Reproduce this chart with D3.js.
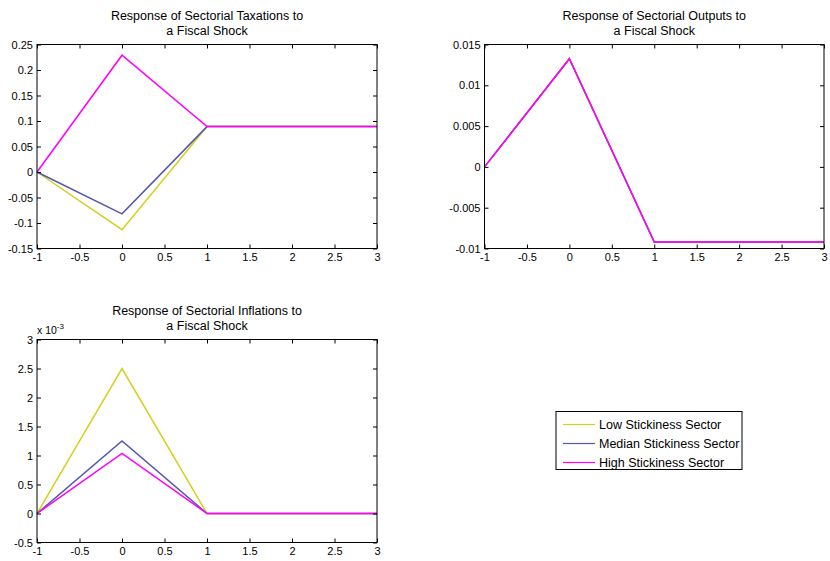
<!DOCTYPE html>
<html><head><meta charset="utf-8">
<script src="https://cdn.jsdelivr.net/npm/d3@7/dist/d3.min.js"></script>
<style>
body{margin:0;background:#fff;}
svg{display:block;font-family:"Liberation Sans",Arial,sans-serif;}
</style></head>
<body><svg id="c" width="830" height="561"></svg>
<script>
const periods = [-1, 0, 1, 2, 3];
const seriesNames = ["Low Stickiness Sector", "Median Stickiness Sector", "High Stickiness Sector"];
const seriesColors = ["#d6cf1e", "#5656ad", "#ff00ff"];

const taxLow = [0, -0.113, 0.089, 0.089, 0.089];
const taxMed = [0, -0.082, 0.089, 0.089, 0.089];
const taxHigh = [0, 0.229, 0.089, 0.089, 0.089];

const outLow = [0, 0.01325, -0.0092, -0.0092, -0.0092];
const outMed = [0, 0.01325, -0.0092, -0.0092, -0.0092];
const outHigh = [0, 0.01325, -0.0092, -0.0092, -0.0092];

const infLow = [0, 2.5, 0, 0, 0];      // x 10^-3
const infMed = [0, 1.25, 0, 0, 0];
const infHigh = [0, 1.035, 0, 0, 0];

const xTicks = [-1, -0.5, 0, 0.5, 1, 1.5, 2, 2.5, 3];
const taxTicks = [-0.15, -0.1, -0.05, 0, 0.05, 0.1, 0.15, 0.2, 0.25];
const outTicks = [-0.01, -0.005, 0, 0.005, 0.01, 0.015];
const infTicks = [-0.5, 0, 0.5, 1, 1.5, 2, 2.5, 3];

const svg = d3.select("#c");

function panel(o) {
  const g = svg.append("g");
  const x = d3.scaleLinear().domain([-1, 3]).range([o.x0, o.x1]);
  const y = d3.scaleLinear().domain(o.dom).range([o.y1, o.y0]);
  const line = d3.line().x((d, i) => x(periods[i])).y(d => y(d));
  o.series.forEach((s, k) => {
    g.append("path").attr("d", line(s)).attr("fill", "none")
      .attr("stroke", seriesColors[k]).attr("stroke-width", 1.5)
      .attr("stroke-linejoin", "miter");
  });
  g.append("rect").attr("x", o.x0).attr("y", o.y0).attr("width", o.x1 - o.x0).attr("height", o.y1 - o.y0)
    .attr("fill", "none").attr("stroke", "#000").attr("stroke-width", 1);
  const fmt = v => String(+v.toFixed(4));
  const bx = g.append("g").attr("transform", `translate(0,${o.y1})`)
    .call(d3.axisBottom(x).tickValues(xTicks).tickSizeInner(-4).tickSizeOuter(0).tickPadding(5).tickFormat(fmt));
  g.append("g").attr("transform", `translate(0,${o.y0})`)
    .call(d3.axisTop(x).tickValues(xTicks).tickSizeInner(-4).tickSizeOuter(0).tickFormat(""));
  g.append("g").attr("transform", `translate(${o.x0},0)`)
    .call(d3.axisLeft(y).tickValues(o.ticks).tickSizeInner(-4).tickSizeOuter(0).tickPadding(4).tickFormat(fmt));
  g.append("g").attr("transform", `translate(${o.x1},0)`)
    .call(d3.axisRight(y).tickValues(o.ticks).tickSizeInner(-4).tickSizeOuter(0).tickFormat(""));
  g.selectAll(".domain").remove();
  g.selectAll(".tick line").attr("stroke", "#000");
  g.selectAll(".tick text").attr("font-size", 11).attr("fill", "#000").attr("font-family", "Liberation Sans, Arial, sans-serif");
  bx.selectAll(".tick text").attr("dy", "0.71em");
  const cx = (o.x0 + o.x1) / 2;
  o.title.forEach((t, i) => {
    g.append("text").attr("x", cx).attr("y", o.y0 - 25 + i * 15.5).attr("text-anchor", "middle")
      .attr("font-size", 12.5).attr("fill", "#000").text(t);
  });
  return g;
}

panel({x0: 37, x1: 377, y0: 44.5, y1: 248.5, dom: [-0.15, 0.25], ticks: taxTicks,
  series: [taxLow, taxMed, taxHigh], title: ["Response of Sectorial Taxations to", "a Fiscal Shock"]});
panel({x0: 484.5, x1: 824, y0: 44.5, y1: 248.5, dom: [-0.01, 0.015], ticks: outTicks,
  series: [outLow, outMed, outHigh], title: ["Response of Sectorial Outputs to", "a Fiscal Shock"]});
const g3 = panel({x0: 37, x1: 377, y0: 339.5, y1: 542.5, dom: [-0.5, 3], ticks: infTicks,
  series: [infLow, infMed, infHigh], title: ["Response of Sectorial Inflations to", "a Fiscal Shock"]});
const mult = g3.append("text").attr("x", 37).attr("y", 334).attr("font-size", 10.5).attr("fill", "#000");
mult.append("tspan").text("x 10");
mult.append("tspan").attr("dy", -5).attr("font-size", 8).text("-3");

const lg = svg.append("g");
lg.append("rect").attr("x", 556).attr("y", 411.5).attr("width", 186).attr("height", 58)
  .attr("fill", "#fff").attr("stroke", "#000").attr("stroke-width", 1);
seriesNames.forEach((n, k) => {
  const yy = 424.5 + k * 19;
  lg.append("line").attr("x1", 563).attr("x2", 595).attr("y1", yy).attr("y2", yy)
    .attr("stroke", seriesColors[k]).attr("stroke-width", 1.2);
  lg.append("text").attr("x", 599).attr("y", yy + 4.5).attr("font-size", 12.5).attr("fill", "#000")
    .text(n);
});
</script></body></html>
